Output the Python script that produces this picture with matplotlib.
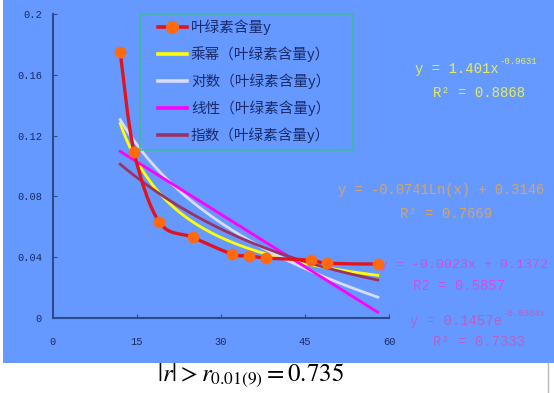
import numpy as np
import matplotlib
matplotlib.use("Agg")
import matplotlib.pyplot as plt
from matplotlib.path import Path
from matplotlib.patches import PathPatch, Rectangle
from matplotlib.lines import Line2D

plt.rcParams['font.family'] = ['Noto Sans CJK SC', 'DejaVu Sans']

# ---- data ----
x_days = [12, 14.5, 19, 25, 32, 35, 38, 46, 49, 58]
chl_y = [0.175, 0.109, 0.063, 0.053, 0.042, 0.041, 0.0395, 0.038, 0.036, 0.0355]

power_coef = [1.401, -0.9631]       # y = a x^b
log_coef = [-0.0741, 0.3146]        # y = a ln(x) + b
lin_coef = [-0.0023, 0.1372]        # y = a x + b
exp_coef = [0.1457, -0.0304]        # y = a e^(b x)

legend_labels = ["叶绿素含量y", "乘幂（叶绿素含量y）", "对数（叶绿素含量y）",
                 "线性（叶绿素含量y）", "指数（叶绿素含量y）"]
xticks = [0, 15, 30, 45, 60]
yticks = [0, 0.04, 0.08, 0.12, 0.16, 0.2]
ytick_labels = ["0", "0.04", "0.08", "0.12", "0.16", "0.2"]

W, H = 554, 393
fig = plt.figure(figsize=(W / 100, H / 100), dpi=100)
fig.patch.set_facecolor("white")
BLUE = "#6699FF"
fig.patches.append(Rectangle((3 / W, 1 - 363 / H), 1 - 3 / W, 363 / H,
                             transform=fig.transFigure, facecolor=BLUE,
                             edgecolor="none", zorder=-5))
fig.lines.append(Line2D([548 / W, 548 / W], [0, 1 - 363 / H], transform=fig.transFigure,
                        color="#BBBBBB", lw=1, zorder=-5))

def px(x, y):
    return x / W, 1 - y / H

l, b = px(53, 318)
r, t = px(389, 14)
ax = fig.add_axes([l, b, r - l, t - b])
ax.set_facecolor("none")
ax.set_xlim(0, 60)
ax.set_ylim(0, 0.2)
for s in ["top", "right"]:
    ax.spines[s].set_visible(False)
SPC = "#2A4A8A"
for s in ["left", "bottom"]:
    ax.spines[s].set_color(SPC)
    ax.spines[s].set_linewidth(1.5)
ax.set_xticks(xticks)
ax.set_xticklabels([str(v) for v in xticks])
ax.set_yticks(yticks)
ax.set_yticklabels(ytick_labels)
ax.tick_params(direction="in", length=3, color=SPC, labelcolor="#1A2A6A",
               labelsize=7.5)
ax.tick_params(axis="x", pad=14)
ax.tick_params(axis="y", pad=8)
for lab in ax.get_xticklabels() + ax.get_yticklabels():
    lab.set_family("Liberation Mono")

# trendlines
xf = np.linspace(min(x_days), max(x_days), 200)
yp = power_coef[0] * xf ** power_coef[1]
yl = log_coef[0] * np.log(xf) + log_coef[1]
yli = lin_coef[0] * xf + lin_coef[1]
ye = exp_coef[0] * np.exp(exp_coef[1] * xf)

C_RED = "#E0141E"
C_MK = "#FF6A10"
C_POW = "#FFFF00"
C_LOG = "#D8DCF4"
C_LIN = "#FF00FF"
C_EXP = "#993366"
LW = 2.0
ax.plot(xf, yp, color=C_POW, lw=LW, zorder=3)
ax.plot(xf, yl, color=C_LOG, lw=LW, zorder=3)
ax.plot(xf, yli, color=C_LIN, lw=LW, zorder=3)
ax.plot(xf, ye, color=C_EXP, lw=LW, zorder=3)

# smoothed data line (Catmull-Rom -> cubic Bezier)
P = np.column_stack([x_days, chl_y])
verts = [tuple(P[0])]
codes = [Path.MOVETO]
n = len(P)
for i in range(n - 1):
    p0 = P[i - 1] if i > 0 else P[i]
    p1 = P[i]
    p2 = P[i + 1]
    p3 = P[i + 2] if i + 2 < n else P[i + 1]
    c1 = p1 + (p2 - p0) / 6
    c2 = p2 - (p3 - p1) / 6
    verts += [tuple(c1), tuple(c2), tuple(p2)]
    codes += [Path.CURVE4] * 3
ax.add_patch(PathPatch(Path(verts, codes), facecolor="none", edgecolor=C_RED,
                       lw=2.4, zorder=4, capstyle="round", joinstyle="round"))
ax.plot(x_days, chl_y, ls="none", marker="o", ms=7.5, color=C_MK, zorder=5)

# manual legend
lx0, ly0 = px(140, 150)
lx1, ly1 = px(353, 14)
fig.patches.append(Rectangle((lx0, ly0), lx1 - lx0, ly1 - ly0, transform=fig.transFigure,
                             facecolor="none", edgecolor="#3FB8A0", lw=1.2, zorder=2))
leg_colors = [C_RED, C_POW, C_LOG, C_LIN, C_EXP]
row_y = [27, 54, 81, 108, 135]
for i, (lab, c, yy) in enumerate(zip(legend_labels, leg_colors, row_y)):
    xa, ya = px(158, yy)
    xb, _ = px(187, yy)
    fig.lines.append(Line2D([xa, xb], [ya, ya], transform=fig.transFigure,
                            color=c, lw=2.6, zorder=3))
    if i == 0:
        xm, _ = px(172, yy)
        fig.lines.append(Line2D([xm], [ya], transform=fig.transFigure, ls="none",
                                marker="o", ms=8.5, color=C_MK, zorder=4))
    fig.text(*px(191, yy), lab, fontsize=10.5, color="#1A2A6A", va="center",
             ha="left", zorder=4)

MONO = "Liberation Mono"
def ftext(x, y, s, color, size=10, ha="left"):
    ax.text(*px(x, y), s, transform=fig.transFigure, color=color, fontsize=size,
            family=MONO, ha=ha, va="center", zorder=1, clip_on=False)

# power
C1 = "#E6EC5A"
ftext(415, 69, "y = 1.401x", C1)
ftext(500, 61, "-0.9631", C1, size=6.5)
ftext(433, 93, "R² = 0.8868", C1)
# log
C2 = "#D4A468"
ftext(338, 190, "y = -0.0741Ln(x) + 0.3146", C2, size=9.9)
ftext(400, 214, "R² = 0.7669", C2)
# linear
C3 = "#D24EE0"
ftext(380, 265, "y = -0.0023x + 0.1372", C3, size=9.5)
ftext(413, 286, "R2 = 0.5857", C3)
# exponential
C4 = "#B462C8"
ftext(410, 321, "y = 0.1457e", C4)
ftext(503, 313, "-0.0304x", C4, size=6.5)
ftext(433, 342, "R² = 0.7333", C4)

plt.rcParams['mathtext.fontset'] = 'stix'
fig.text(*px(250, 375), r"$|r| > r_{0.01(9)} = 0.735$", fontsize=18,
         ha="center", va="center", color="black")

fig.savefig("out.png", dpi=100)
